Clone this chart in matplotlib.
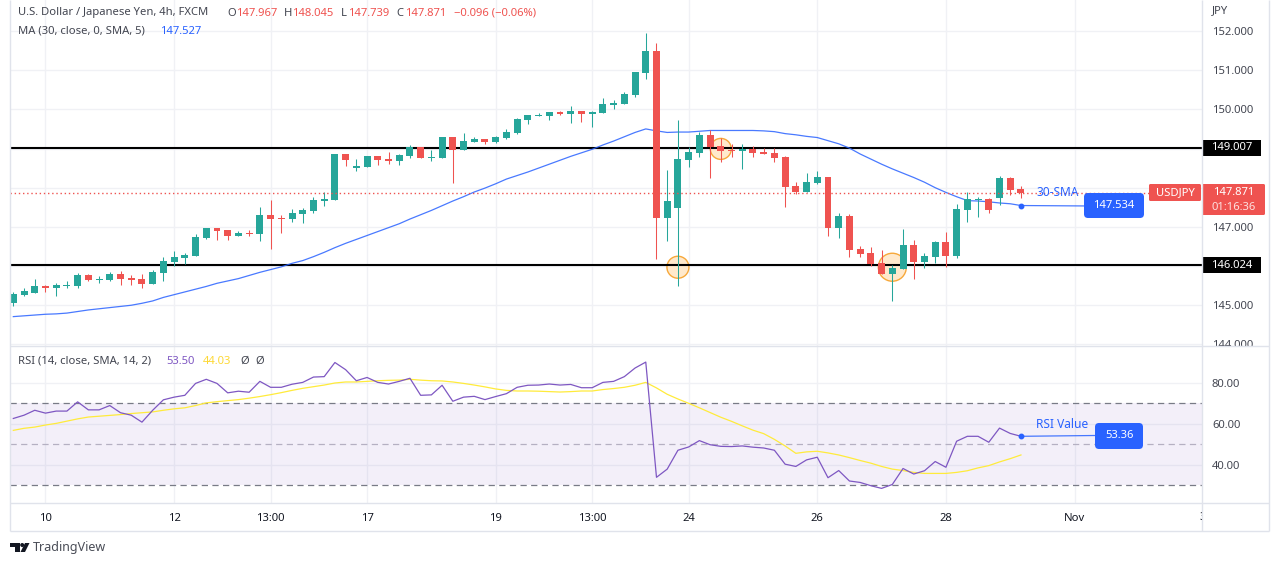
import matplotlib
matplotlib.use('Agg')
import matplotlib.pyplot as plt
from matplotlib.patches import Ellipse, FancyBboxPatch, Polygon, Circle
from matplotlib.transforms import Bbox

plt.rcParams['font.family'] = ['Noto Sans', 'DejaVu Sans']

opens = [145.06, 145.27, 145.32, 145.50, 145.45, 145.50, 145.50, 145.78, 145.65, 145.65,
         145.80, 145.70, 145.68, 145.55, 145.83, 146.11, 146.21, 146.26, 146.72, 146.97,
         146.92, 146.77, 146.85, 146.82, 147.31, 147.23, 147.20, 147.33, 147.41, 147.66,
         147.69, 148.86, 148.51, 148.53, 148.81, 148.74, 148.69, 148.81, 149.04, 148.76,
         148.76, 149.30, 148.97, 149.17, 149.25, 149.17, 149.27, 149.40, 149.73, 149.83,
         149.83, 149.93, 149.88, 149.96, 149.88, 149.91, 150.11, 150.14, 150.37, 150.93,
         151.49, 147.23, 147.49, 148.71, 148.89, 149.35, 149.07, 148.96, 148.94, 148.99,
         148.91, 148.89, 148.79, 148.05, 147.89, 148.12, 148.28, 146.98, 147.28, 146.44,
         146.34, 146.08, 145.80, 145.93, 146.54, 146.11, 146.24, 146.62, 146.26, 147.43,
         147.69, 147.71, 147.74, 148.25, 147.967]
highs = [145.33, 145.45, 145.68, 145.52, 145.57, 145.62, 145.83, 145.80, 145.75, 145.85,
         145.88, 145.78, 145.80, 145.90, 146.24, 146.39, 146.34, 146.82, 146.97, 146.97,
         146.92, 146.90, 146.92, 147.51, 147.69, 147.31, 147.46, 147.49, 147.77, 147.89,
         148.86, 148.86, 148.74, 148.81, 148.81, 148.91, 148.86, 149.09, 149.04, 148.97,
         149.30, 149.30, 149.40, 149.30, 149.25, 149.32, 149.50, 149.78, 149.86, 149.91,
         149.93, 149.96, 150.09, 149.96, 149.96, 150.29, 150.24, 150.44, 150.96, 151.95,
         151.69, 148.45, 149.73, 149.04, 149.42, 149.475, 149.27, 149.12, 149.12, 149.07,
         149.02, 149.02, 148.81, 148.15, 148.38, 148.43, 148.28, 147.36, 147.33, 146.52,
         146.49, 146.42, 146.03, 146.95, 146.67, 146.34, 146.64, 146.87, 147.59, 147.89,
         147.77, 147.74, 148.30, 148.28, 148.045]
lows = [144.97, 145.24, 145.32, 145.34, 145.24, 145.45, 145.45, 145.62, 145.57, 145.62,
        145.52, 145.52, 145.45, 145.55, 145.62, 146.01, 146.06, 146.26, 146.70, 146.67,
        146.67, 146.77, 146.77, 146.64, 146.44, 146.85, 147.13, 147.10, 147.36, 147.54,
        147.69, 148.56, 148.43, 148.53, 148.58, 148.61, 148.58, 148.76, 148.76, 148.69,
        148.76, 148.12, 148.97, 149.17, 149.12, 149.14, 149.25, 149.37, 149.63, 149.83,
        149.73, 149.86, 149.65, 149.68, 149.55, 149.91, 150.01, 150.14, 150.32, 150.78,
        146.19, 146.64, 145.50, 148.53, 148.79, 148.25, 148.66, 148.79, 148.48, 148.79,
        148.86, 148.66, 147.51, 147.84, 147.89, 148.10, 146.77, 146.72, 146.24, 146.24,
        146.01, 145.80, 145.11, 145.93, 145.67, 145.96, 146.08, 145.98, 146.21, 147.13,
        147.26, 147.36, 147.56, 147.82, 147.739]
closes = [145.29, 145.37, 145.50, 145.45, 145.52, 145.52, 145.78, 145.65, 145.68, 145.80,
          145.68, 145.65, 145.55, 145.85, 146.14, 146.24, 146.29, 146.75, 146.97, 146.90,
          146.77, 146.85, 146.82, 147.31, 147.20, 147.20, 147.36, 147.43, 147.69, 147.71,
          148.86, 148.71, 148.56, 148.81, 148.71, 148.69, 148.84, 149.04, 148.76, 148.79,
          149.30, 148.97, 149.20, 149.25, 149.17, 149.30, 149.42, 149.76, 149.86, 149.86,
          149.93, 149.88, 149.96, 149.88, 149.93, 150.14, 150.16, 150.39, 150.96, 151.49,
          147.23, 147.66, 148.74, 148.91, 149.35, 149.04, 148.94, 148.94, 148.99, 148.89,
          148.86, 148.76, 148.02, 147.89, 148.15, 148.28, 146.98, 147.28, 146.42, 146.31,
          146.06, 145.80, 145.96, 146.54, 146.11, 146.26, 146.62, 146.26, 147.46, 147.71,
          147.71, 147.43, 148.25, 147.94, 147.871]
ma30 = [144.71, 144.73, 144.75, 144.77, 144.78, 144.80, 144.84, 144.88, 144.91, 144.94,
        144.97, 145.00, 145.05, 145.11, 145.20, 145.27, 145.34, 145.41, 145.48, 145.56,
        145.62, 145.68, 145.76, 145.84, 145.91, 145.98, 146.07, 146.14, 146.24, 146.35,
        146.47, 146.58, 146.68, 146.78, 146.88, 146.98, 147.08, 147.20, 147.31, 147.42,
        147.54, 147.66, 147.77, 147.89, 147.99, 148.10, 148.22, 148.31, 148.40, 148.50,
        148.60, 148.70, 148.80, 148.89, 148.98, 149.09, 149.19, 149.30, 149.41, 149.50,
        149.45, 149.41, 149.42, 149.42, 149.44, 149.46, 149.46, 149.46, 149.46, 149.46,
        149.45, 149.43, 149.38, 149.35, 149.31, 149.28, 149.20, 149.12, 149.01, 148.86,
        148.73, 148.60, 148.48, 148.37, 148.26, 148.14, 148.00, 147.88, 147.77, 147.67,
        147.66, 147.64, 147.61, 147.59, 147.545]
rsi = [62.6, 64.2, 66.6, 65.2, 66.2, 66.2, 70.7, 66.8, 66.8, 68.9,
       65.4, 64.2, 60.8, 66.6, 71.7, 73.0, 73.9, 79.7, 81.7, 79.7,
       75.1, 75.9, 75.4, 80.7, 77.8, 77.8, 79.3, 80.2, 82.8, 83.0,
       89.9, 86.4, 81.0, 82.6, 80.2, 79.4, 80.7, 82.2, 73.9, 74.1,
       78.8, 71.0, 73.0, 73.4, 71.8, 73.3, 74.7, 77.8, 78.8, 78.9,
       79.4, 78.9, 79.2, 77.6, 77.6, 80.2, 80.7, 83.0, 87.2, 90.1,
       33.9, 37.9, 47.1, 48.7, 51.8, 49.8, 49.0, 48.9, 49.2, 48.6,
       48.2, 47.1, 40.3, 39.2, 42.4, 43.7, 33.7, 37.2, 32.1, 31.4,
       29.8, 28.5, 30.4, 38.2, 35.5, 37.1, 41.6, 38.8, 51.5, 53.9,
       53.9, 51.0, 57.9, 55.3, 53.9]
rsi_ma = [56.8, 57.8, 58.4, 59.4, 60.2, 61.3, 62.4, 63.3, 63.7, 64.1,
          64.5, 65.0, 65.4, 65.8, 66.6, 67.3, 67.8, 68.9, 70.2, 70.8,
          71.3, 71.8, 72.5, 73.3, 74.2, 75.2, 76.3, 77.3, 78.1, 78.9,
          79.9, 80.4, 80.4, 80.7, 81.0, 81.2, 81.3, 81.7, 81.3, 81.0,
          80.9, 80.4, 79.7, 78.9, 78.0, 77.0, 76.3, 76.0, 76.0, 75.9,
          75.7, 75.5, 75.7, 76.0, 76.0, 76.7, 77.2, 77.8, 78.8, 80.2,
          77.5, 74.4, 72.1, 70.0, 67.8, 65.5, 63.2, 61.2, 59.0, 56.9,
          55.2, 52.4, 49.2, 45.6, 46.3, 46.6, 45.8, 44.8, 43.5, 42.1,
          40.8, 39.2, 37.9, 37.2, 36.3, 35.8, 35.8, 35.8, 36.3, 37.1,
          38.5, 39.6, 41.4, 43.0, 44.8]

tick_bars = [3, 15, 24, 33, 45, 54, 63, 75, 87, 99, 111]
tick_labels = ['10', '12', '13:00', '17', '19', '13:00', '24', '26', '28', 'Nov', '3']
price_ticks = [144, 145, 146, 147, 148, 149, 150, 151, 152]
hidden_ticks = [146, 148, 149]
rsi_ticks = [40, 60, 80]
support = 146.024
resistance = 149.007
last_price = 147.871
sma_label = 147.534
rsi_label = 53.36
circle_bars = [62, 66, 82]
circle_prices = [145.97, 148.99, 145.97]

W, H = 1274, 566
GREEN = '#26a69a'
RED = '#ef5350'
BLUE = '#2962ff'
PURPLE = '#7e57c2'
YELLOW = '#ffeb3b'
GRID = '#f0f1f5'
BORDER = '#e0e3eb'
TEXT = '#131722'
GREY = '#434651'
FS = 8.1


def px_axes(x0, y0, x1, y1):
    return fig.add_axes([x0 / W, 1 - y1 / H, (x1 - x0) / W, (y1 - y0) / H])


fig = plt.figure(figsize=(W / 100, H / 100), dpi=100, facecolor='white')
ax = px_axes(10, 0, 1202, 346)
ax_rsi = px_axes(10, 347, 1202, 503)
xlim = (-0.31, 110.89)

for a in (ax, ax_rsi):
    a.set_xlim(xlim)
    a.set_xticks(tick_bars[:-1])
    a.grid(True, color=GRID, lw=1.0)
    a.set_axisbelow(True)
    a.yaxis.tick_right()
    a.tick_params(length=0, labelsize=FS, labelcolor=GREY, pad=7.2)
    for s in a.spines.values():
        s.set_visible(False)

ax.set_ylim(143.96, 152.79)
ax.set_yticks(price_ticks)
# tags cover these three labels in the reference
ax.set_yticklabels(['' if p in hidden_ticks else '%.3f' % p for p in price_ticks])
ax.tick_params(axis='x', labelbottom=False)
# the lowest price label is cut by the pane edge
clip = Bbox.from_extents(1202, H - 346, W, H)
for lab in ax.get_yticklabels():
    lab.set_clip_on(True)
    lab.set_clip_box(clip)

# drawings under the candles
for b, p, r in zip(circle_bars, circle_prices, [11, 10.5, 14]):
    ax.add_patch(Ellipse((b, p), 2 * r / 10.72, 2 * r / 39.2, facecolor='#ffe9cc',
                         edgecolor='#f7a83a', lw=1.0, zorder=1.5))
ax.axhline(resistance, color='black', lw=1.5, zorder=1.8)
ax.axhline(support, color='black', lw=1.5, zorder=1.8)
bars = range(len(closes))
ax.plot(bars, ma30, color=BLUE, lw=0.9, alpha=0.85, zorder=2)

for i in bars:
    col = GREEN if closes[i] >= opens[i] else RED
    ax.vlines(i, lows[i], highs[i], color=col, lw=0.75, zorder=3)
    ax.bar(i, abs(closes[i] - opens[i]), bottom=min(opens[i], closes[i]), width=0.65, color=col, lw=0, zorder=3.2)

ax.axhline(last_price, color=RED, lw=1.0, ls=(0, (1, 2)), zorder=4)
ax.plot([94, 100], [ma30[-1], sma_label], color=BLUE, lw=0.9, alpha=0.85, zorder=4)
ax.plot([94], [ma30[-1]], 'o', color=BLUE, ms=3.2, zorder=4.5)

ax_rsi.set_ylim(21.37, 97.46)
ax_rsi.set_yticks(rsi_ticks)
ax_rsi.set_yticklabels(['%.2f' % r for r in rsi_ticks])
ax_rsi.set_xticklabels(tick_labels[:-1])
ax_rsi.tick_params(axis='x', labelcolor=TEXT, pad=7)
ax_rsi.axhspan(30, 70, color=PURPLE, alpha=0.09, lw=0, zorder=1)
ax_rsi.axhline(70, color='#787b86', lw=0.9, ls=(0, (5, 3.5)), zorder=2)
ax_rsi.axhline(50, color='#b5b0c2', lw=0.9, ls=(0, (5, 3.5)), zorder=2)
ax_rsi.axhline(30, color='#787b86', lw=0.9, ls=(0, (5, 3.5)), zorder=2)
ax_rsi.plot(bars, rsi_ma, color=YELLOW, lw=0.9, zorder=3)
ax_rsi.plot(bars, rsi, color=PURPLE, lw=0.9, zorder=4)
ax_rsi.plot([94, 101], [rsi[-1], 54.3], color=BLUE, lw=0.9, alpha=0.85, zorder=5)
ax_rsi.plot([94], [rsi[-1]], 'o', color=BLUE, ms=3.2, zorder=5.5)

# overlay in pixel coordinates for scale labels, legends and frame
ov = fig.add_axes([0, 0, 1, 1], zorder=10)
ov.set_xlim(0, W)
ov.set_ylim(H, 0)
ov.axis('off')
ov.patch.set_alpha(0)

for x0, y0, x1, y1 in [(10, 0, 10, 531), (1202, 0, 1202, 531), (1269, 0, 1269, 531), (10, 346, 1269, 346),
                       (10, 503, 1269, 503), (10, 531, 1269, 531)]:
    ov.plot([x0, x1], [y0, y1], color=BORDER, lw=1.0, solid_capstyle='butt')
# last time label sits on the scale border and only its left edge shows
last_tick = ov.text(1203, 517, tick_labels[-1], ha='center', va='center', fontsize=FS, color=TEXT)
last_tick.set_clip_on(True)
last_tick.set_clip_box(Bbox.from_extents(0, 0, 1202, H))


def tag(x0, y0, x1, y1, color, rounding=0.0):
    ov.add_patch(FancyBboxPatch((x0, y0), x1 - x0, y1 - y0, boxstyle='round,pad=0,rounding_size=%s' % rounding,
                                facecolor=color, edgecolor='none', lw=0))


def write(x, y, s, color=GREY, size=FS, **kw):
    ov.text(x, y, s, color=color, fontsize=size, va='center', **kw)


write(1212, 11, 'JPY')
tag(1202, 140, 1261, 156, 'black')
tag(1202, 257, 1261, 273, 'black')
write(1231.5, 148, '%.3f' % resistance, 'white', FS, ha='center', fontweight='bold')
write(1231.5, 265, '%.3f' % support, 'white', FS, ha='center', fontweight='bold')

tag(1149, 184, 1201, 201, RED, 1.5)
write(1175, 192.5, 'USDJPY', 'white', FS, ha='center', fontweight='bold')
tag(1202, 184, 1265, 215, RED, 1.5)
write(1233.5, 192.5, '%.3f' % last_price, 'white', FS, ha='center', fontweight='bold')
write(1233.5, 207, '01:16:36', '#fde0df', FS, ha='center')

write(1058, 193, '30-SMA', BLUE, 8.6, ha='center')
tag(1084, 193, 1144, 218, BLUE, 4)
write(1114, 205, '%.3f' % sma_label, 'white', FS, ha='center', fontweight='bold')

write(1062, 425, 'RSI Value', BLUE, 8.6, ha='center')
tag(1095, 423, 1143, 449, BLUE, 4)
write(1119, 436, '%.2f' % rsi_label, 'white', FS, ha='center', fontweight='bold')

write(18, 13, 'U.S. Dollar / Japanese Yen, 4h, FXCM')
for x, s, col in [(227, 'O', GREY), (236, '147.967', RED), (284, 'H', GREY), (292, '148.045', RED),
                  (341, 'L', GREY), (348, '147.739', RED), (396, 'C', GREY), (405, '147.871', RED),
                  (454, '\u22120.096 (\u22120.06%)', RED)]:
    write(x, 13, s, col)
write(18, 31, 'MA (30, close, 0, SMA, 5)')
write(160, 31, '147.527', BLUE)

write(18, 361, 'RSI (14, close, SMA, 14, 2)')
write(166, 361, '53.50', PURPLE)
write(203, 361, '44.03', '#fdd835')
write(240, 361, '\u00d8')
write(255, 361, '\u00d8')

# TradingView mark
ov.add_patch(Polygon([(10, 543), (20, 543), (20, 552), (15, 552), (15, 547), (10, 547)], facecolor=TEXT, lw=0))
ov.add_patch(Circle((22.2, 545), 2.0, facecolor=TEXT, lw=0))
ov.add_patch(Polygon([(25, 543), (29.5, 543), (25, 552), (20.5, 552)], facecolor=TEXT, lw=0))
write(33, 548, 'TradingView', '#4a4d57', 9.0)

fig.savefig('out.png', dpi=100)
